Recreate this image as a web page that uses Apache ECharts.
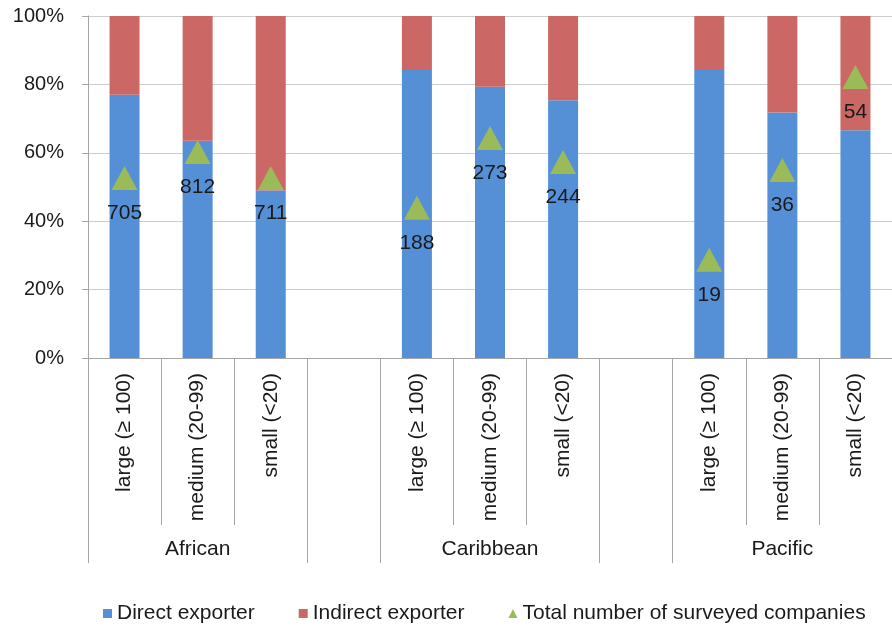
<!DOCTYPE html>
<html>
<head>
<meta charset="utf-8">
<script src="https://cdn.jsdelivr.net/npm/echarts@6/dist/echarts.min.js"></script>
<style>
  html, body { margin: 0; padding: 0; background: #fff; }
  #chart { width: 892px; height: 626px; }
</style>
</head>
<body>
<div id="chart"></div>
<script>
// categories (blank ones are the gaps between regions)
const categories = [
  'large (≥ 100)', 'medium (20-99)', 'small (<20)', '',
  'large (≥ 100)', 'medium (20-99)', 'small (<20)', ' ',
  'large (≥ 100)', 'medium (20-99)', 'small (<20)'
];
const groupLabels = ['', 'African', '', '', '', 'Caribbean', '', '', '', 'Pacific', ''];

// share of direct exporters (%)
const directShare = [77, 63.5, 49, null, 84.2, 79.3, 75.4, null, 84.2, 71.8, 66.6];
// position of the triangle marker (%)
const markerPos = [52.6, 60.2, 52.6, null, 43.9, 64.3, 57.3, null, 28.7, 55, 82.2];
// number of surveyed companies shown as label
const companyCount = [705, 812, 711, null, 188, 273, 244, null, 19, 36, 54];

const yTicks = [0, 20, 40, 60, 80, 100];

const indirectShare = directShare.map(v => v == null ? null : +(100 - v).toFixed(1));

const font = 'Liberation Sans, Arial, sans-serif';
const textColor = '#1a1a1a';
const lineColor = '#a6a6a6';
const groupEdges = [0, 3, 4, 7, 8];

const chart = echarts.init(document.getElementById('chart'));

chart.setOption({
  animation: false,
  backgroundColor: '#fff',
  textStyle: { fontFamily: font },
  grid: { left: 88, top: 16, height: 342, width: 813 },
  legend: {
    left: 98,
    top: 598,
    itemWidth: 9,
    itemHeight: 9,
    itemGap: 44,
    textStyle: { fontSize: 21, color: textColor, fontFamily: font },
    data: [
      { name: 'Direct exporter', icon: 'rect' },
      { name: 'Indirect exporter', icon: 'rect' },
      { name: 'Total number of surveyed companies', icon: 'triangle' }
    ]
  },
  xAxis: [
    {
      type: 'category',
      data: categories,
      axisLine: { show: true, lineStyle: { color: lineColor, width: 1 } },
      axisTick: { show: true, interval: 0, length: 167, lineStyle: { color: lineColor } },
      axisLabel: {
        interval: 0,
        rotate: 90,
        margin: 15,
        fontSize: 21,
        color: textColor,
        fontFamily: font
      }
    },
    {
      type: 'category',
      data: groupLabels,
      position: 'bottom',
      offset: 167,
      axisLine: { show: false },
      axisTick: {
        show: true,
        length: 38,
        interval: (i) => groupEdges.includes(i),
        lineStyle: { color: lineColor }
      },
      axisLabel: {
        interval: 0,
        margin: 14,
        fontSize: 21,
        color: textColor,
        fontFamily: font
      }
    }
  ],
  yAxis: {
    type: 'value',
    min: 0,
    max: 100,
    interval: 20,
    axisLine: { show: true, lineStyle: { color: lineColor } },
    axisTick: { show: true, length: 6, lineStyle: { color: lineColor } },
    splitLine: { show: true, lineStyle: { color: '#cdcdcd' } },
    axisLabel: {
      margin: 24,
      fontSize: 20,
      color: textColor,
      fontFamily: font,
      formatter: (v) => yTicks.includes(v) ? v + '%' : ''
    }
  },
  series: [
    {
      name: 'Direct exporter',
      type: 'bar',
      stack: 'share',
      barWidth: 30,
      data: directShare,
      itemStyle: { color: '#5590d6' }
    },
    {
      name: 'Indirect exporter',
      type: 'bar',
      stack: 'share',
      barWidth: 30,
      data: indirectShare,
      itemStyle: { color: '#cb6866' }
    },
    {
      name: 'Total number of surveyed companies',
      type: 'scatter',
      symbol: 'triangle',
      symbolSize: [26, 24],
      data: markerPos.map((v, i) => v == null ? null : { value: v, count: companyCount[i] }),
      itemStyle: { color: '#9bbb59', opacity: 1 },
      label: {
        show: true,
        position: 'bottom',
        distance: 13,
        fontSize: 21,
        color: textColor,
        fontFamily: font,
        formatter: (p) => companyCount[p.dataIndex]
      },
      z: 5
    }
  ]
});
</script>
</body>
</html>
